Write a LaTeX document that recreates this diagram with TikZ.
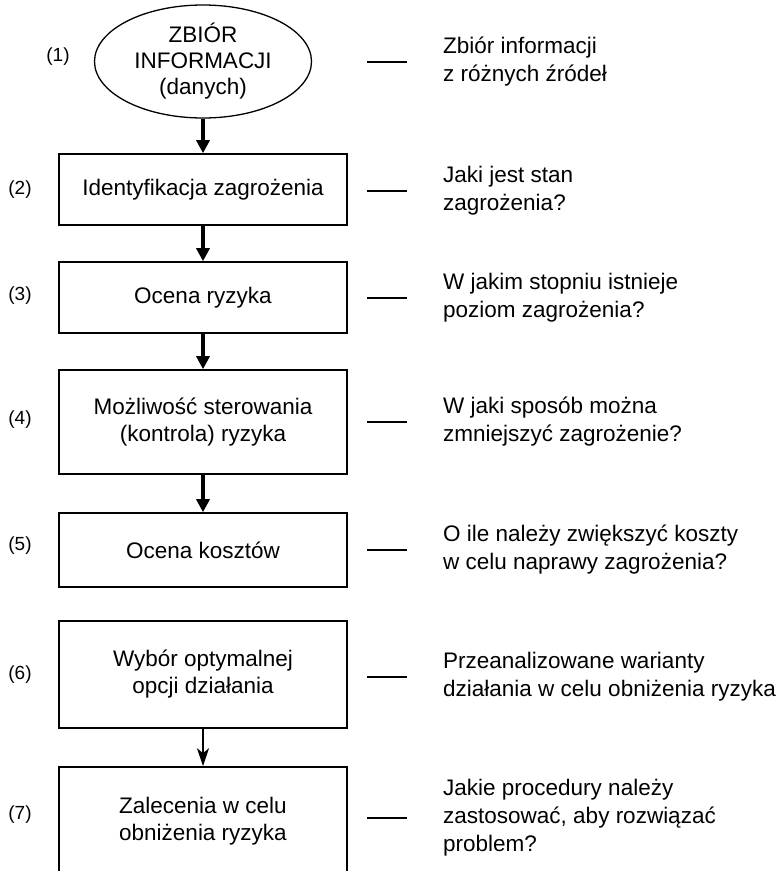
\documentclass[tikz,border=0pt]{standalone}
\usepackage{fontspec}
\setmainfont{Liberation Sans}
\usetikzlibrary{arrows.meta,shapes.geometric,calc}
\begin{document}
\begin{tikzpicture}[x=1pt,y=-1pt,
  fbox/.style={draw,line width=1.6pt,minimum width=288pt,inner sep=0pt,align=center,font=\fontsize{22.5}{27}\selectfont},
  ebox/.style={ellipse,draw,line width=1.3pt,minimum width=217pt,minimum height=113pt,inner sep=0pt,align=center,font=\fontsize{22.5}{26}\selectfont},
  num/.style={font=\fontsize{19}{22}\selectfont,inner sep=0pt},
  desc/.style={anchor=west,inner sep=0pt,align=left,font=\fontsize{22.5}{28}\selectfont},
  dashline/.style={line width=1.6pt},
  bigarrow/.style={line width=4pt,-{Triangle[width=13pt,length=13pt]}},
  thinarrow/.style={line width=1.3pt,-{Stealth[width=12pt,length=18pt,inset=5pt]}}]
\clip (0,0) rectangle (784,871);

\node[ebox] (e1) at (203,61.5) {ZBIÓR\\INFORMACJI\\(danych)};
\node[fbox,minimum height=71pt] (b2) at (203,189.5) {Identyfikacja zagrożenia};
\node[fbox,minimum height=71pt] (b3) at (203,297.5) {Ocena ryzyka};
\node[fbox,minimum height=104pt] (b4) at (203,422) {Możliwość sterowania\\(kontrola) ryzyka};
\node[fbox,minimum height=74pt] (b5) at (203,550) {Ocena kosztów};
\node[fbox,minimum height=107pt] (b6) at (203,674.5) {Wybór optymalnej\\opcji działania};
\node[fbox,minimum height=108pt] (b7) at (203,821) {Zalecenia w celu\\obniżenia ryzyka};

\node[num] (n1) at (58,57) {(1)};
\node[num] (n2) at (20,189.5) {(2)};
\node[num] (n3) at (20,296) {(3)};
\node[num] (n4) at (20,420) {(4)};
\node[num] (n5) at (20,546) {(5)};
\node[num] (n6) at (20,675) {(6)};
\node[num] (n7) at (20,815) {(7)};

\node[desc] (t1) at (443,62) {Zbiór informacji\\z różnych źródeł};
\node[desc] (t2) at (443,191) {Jaki jest stan\\zagrożenia?};
\node[desc] (t3) at (443,298) {W jakim stopniu istnieje\\poziom zagrożenia?};
\node[desc] (t4) at (443,422) {W jaki sposób można\\zmniejszyć zagrożenie?};
\node[desc] (t5) at (443,550) {O ile należy zwiększyć koszty\\w celu naprawy zagrożenia?};
\node[desc] (t6) at (443,677) {Przeanalizowane warianty\\działania w celu obniżenia ryzyka};
\node[desc] (t7) at (443,818) {Jakie procedury należy\\zastosować, aby rozwiązać\\problem?};

\foreach \t in {t1,t2,t3,t4,t5,t6,t7}{
  \draw[dashline] ($(\t.west)+(-76,0)$) -- ($(\t.west)+(-36,0)$);
}

\draw[bigarrow] (e1.south) -- (b2.north);
\draw[bigarrow] (b2.south) -- (b3.north);
\draw[bigarrow] (b3.south) -- (b4.north);
\draw[bigarrow] (b4.south) -- (b5.north);
\draw[thinarrow] (b6.south) -- (b7.north);
\end{tikzpicture}
\end{document}
